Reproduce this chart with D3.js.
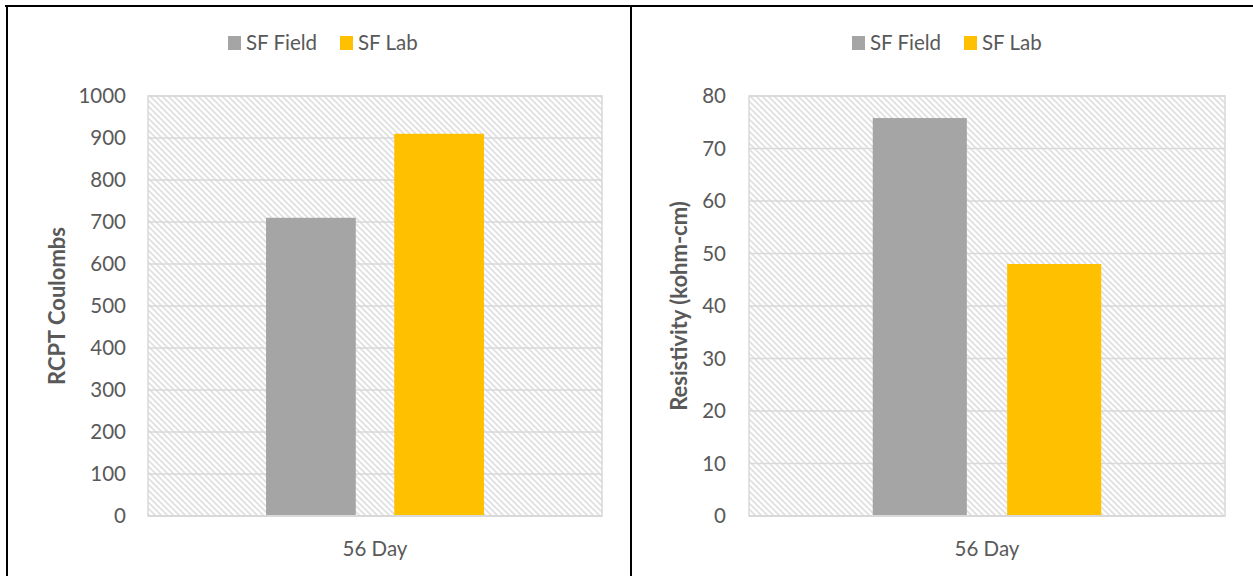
<!DOCTYPE html>
<html><head><meta charset="utf-8">
<script src="https://cdn.jsdelivr.net/npm/d3@7"></script>
<style>body{margin:0;background:#fff}svg{display:block}</style>
</head><body>
<svg id="c" width="1253" height="576"></svg>
<script>
const categories = ["56 Day"];
const series = ["SF Field", "SF Lab"];
const colors = ["#a5a5a5", "#ffc000"];
const rcptValues = [710, 910];
const resistivityValues = [75.8, 48.0];
const rcptTicks = [0,100,200,300,400,500,600,700,800,900,1000];
const resTicks = [0,10,20,30,40,50,60,70,80];

const svg = d3.select("#c");
const defs = svg.append("defs");
const pat = defs.append("pattern").attr("id","hatch").attr("patternUnits","userSpaceOnUse")
  .attr("width",6).attr("height",6);
pat.append("rect").attr("width",6).attr("height",6).attr("fill","#fff");
pat.append("path").attr("d","M-1,-1 L7,7 M-1,5 L1,7 M5,-1 L7,1").attr("stroke","#e0e0e0").attr("stroke-width",1.8);

const font = "Lato, 'Open Sans', sans-serif";
const fs = 20.5;

function panel(opt){
  const g = svg.append("g");
  const {x0, x1, y0, y1, vals, ticks, max, title, legendX, titleX, tickX} = opt;
  const w = x1 - x0;
  const y = d3.scaleLinear().domain([0,max]).range([y1,y0]);
  const xc = d3.scaleBand().domain(categories).range([x0,x1]).padding(0);
  const xs = d3.scaleBand().domain(series)
    .range([xc(categories[0]) + 0.26*w, xc(categories[0]) + 0.74*w]).paddingInner(0.3).paddingOuter(0);
  g.append("rect").attr("x",x0).attr("y",y0).attr("width",w).attr("height",y1-y0)
    .attr("fill","url(#hatch)").attr("stroke","#d9d9d9").attr("stroke-width",1.5);
  g.selectAll("line.grid").data(ticks).join("line").attr("class","grid")
    .attr("x1",x0).attr("x2",x1).attr("y1",d=>y(d)).attr("y2",d=>y(d))
    .attr("stroke","#d9d9d9").attr("stroke-width",1.5);
  g.selectAll("rect.bar").data(vals).join("rect").attr("class","bar")
    .attr("x",(d,i)=>xs(series[i])).attr("width",xs.bandwidth())
    .attr("y",d=>y(d)).attr("height",d=>y(0)-y(d)).attr("fill",(d,i)=>colors[i]);
  g.append("line").attr("x1",x0).attr("x2",x1).attr("y1",y1).attr("y2",y1)
    .attr("stroke","#d9d9d9").attr("stroke-width",2);
  g.selectAll("text.tick").data(ticks).join("text").attr("class","tick")
    .attr("x",tickX).attr("y",d=>y(d)).attr("dy","0.35em").attr("text-anchor","end")
    .attr("font-family",font).attr("font-size",fs).attr("fill","#595959").text(d=>d);
  g.append("text").attr("x",xc(categories[0])+xc.bandwidth()/2).attr("y",556)
    .attr("text-anchor","middle").attr("font-family",font).attr("font-size",fs)
    .attr("fill","#595959").text(categories[0]);
  g.append("text").attr("transform",`translate(${titleX},${(y0+y1)/2}) rotate(-90)`)
    .attr("text-anchor","middle").attr("font-family",font).attr("font-size",22)
    .attr("font-weight","bold").attr("fill","#595959").text(title);
  const leg = g.append("g").attr("transform",`translate(${legendX},0)`);
  const offs = [0, 112];
  series.forEach((s,i)=>{
    leg.append("rect").attr("x",offs[i]).attr("y",36).attr("width",13).attr("height",14).attr("fill",colors[i]);
    leg.append("text").attr("x",offs[i]+18).attr("y",43).attr("dy","0.35em")
      .attr("font-family",font).attr("font-size",fs).attr("fill","#595959").text(s);
  });
}

panel({x0:148,x1:602,y0:96,y1:516,vals:rcptValues,ticks:rcptTicks,max:1000,
  title:"RCPT Coulombs",legendX:228,titleX:65,tickX:126});
panel({x0:749,x1:1225,y0:96,y1:516,vals:resistivityValues,ticks:resTicks,max:80,
  title:"Resistivity (kohm-cm)",legendX:852,titleX:687,tickX:726});

// frame lines
svg.append("line").attr("x1",5).attr("x2",1253).attr("y1",6).attr("y2",6).attr("stroke","#000").attr("stroke-width",2);
svg.append("line").attr("x1",7).attr("x2",7).attr("y1",5).attr("y2",576).attr("stroke","#000").attr("stroke-width",2);
svg.append("line").attr("x1",631).attr("x2",631).attr("y1",5).attr("y2",576).attr("stroke","#000").attr("stroke-width",2);
</script>
</body></html>
